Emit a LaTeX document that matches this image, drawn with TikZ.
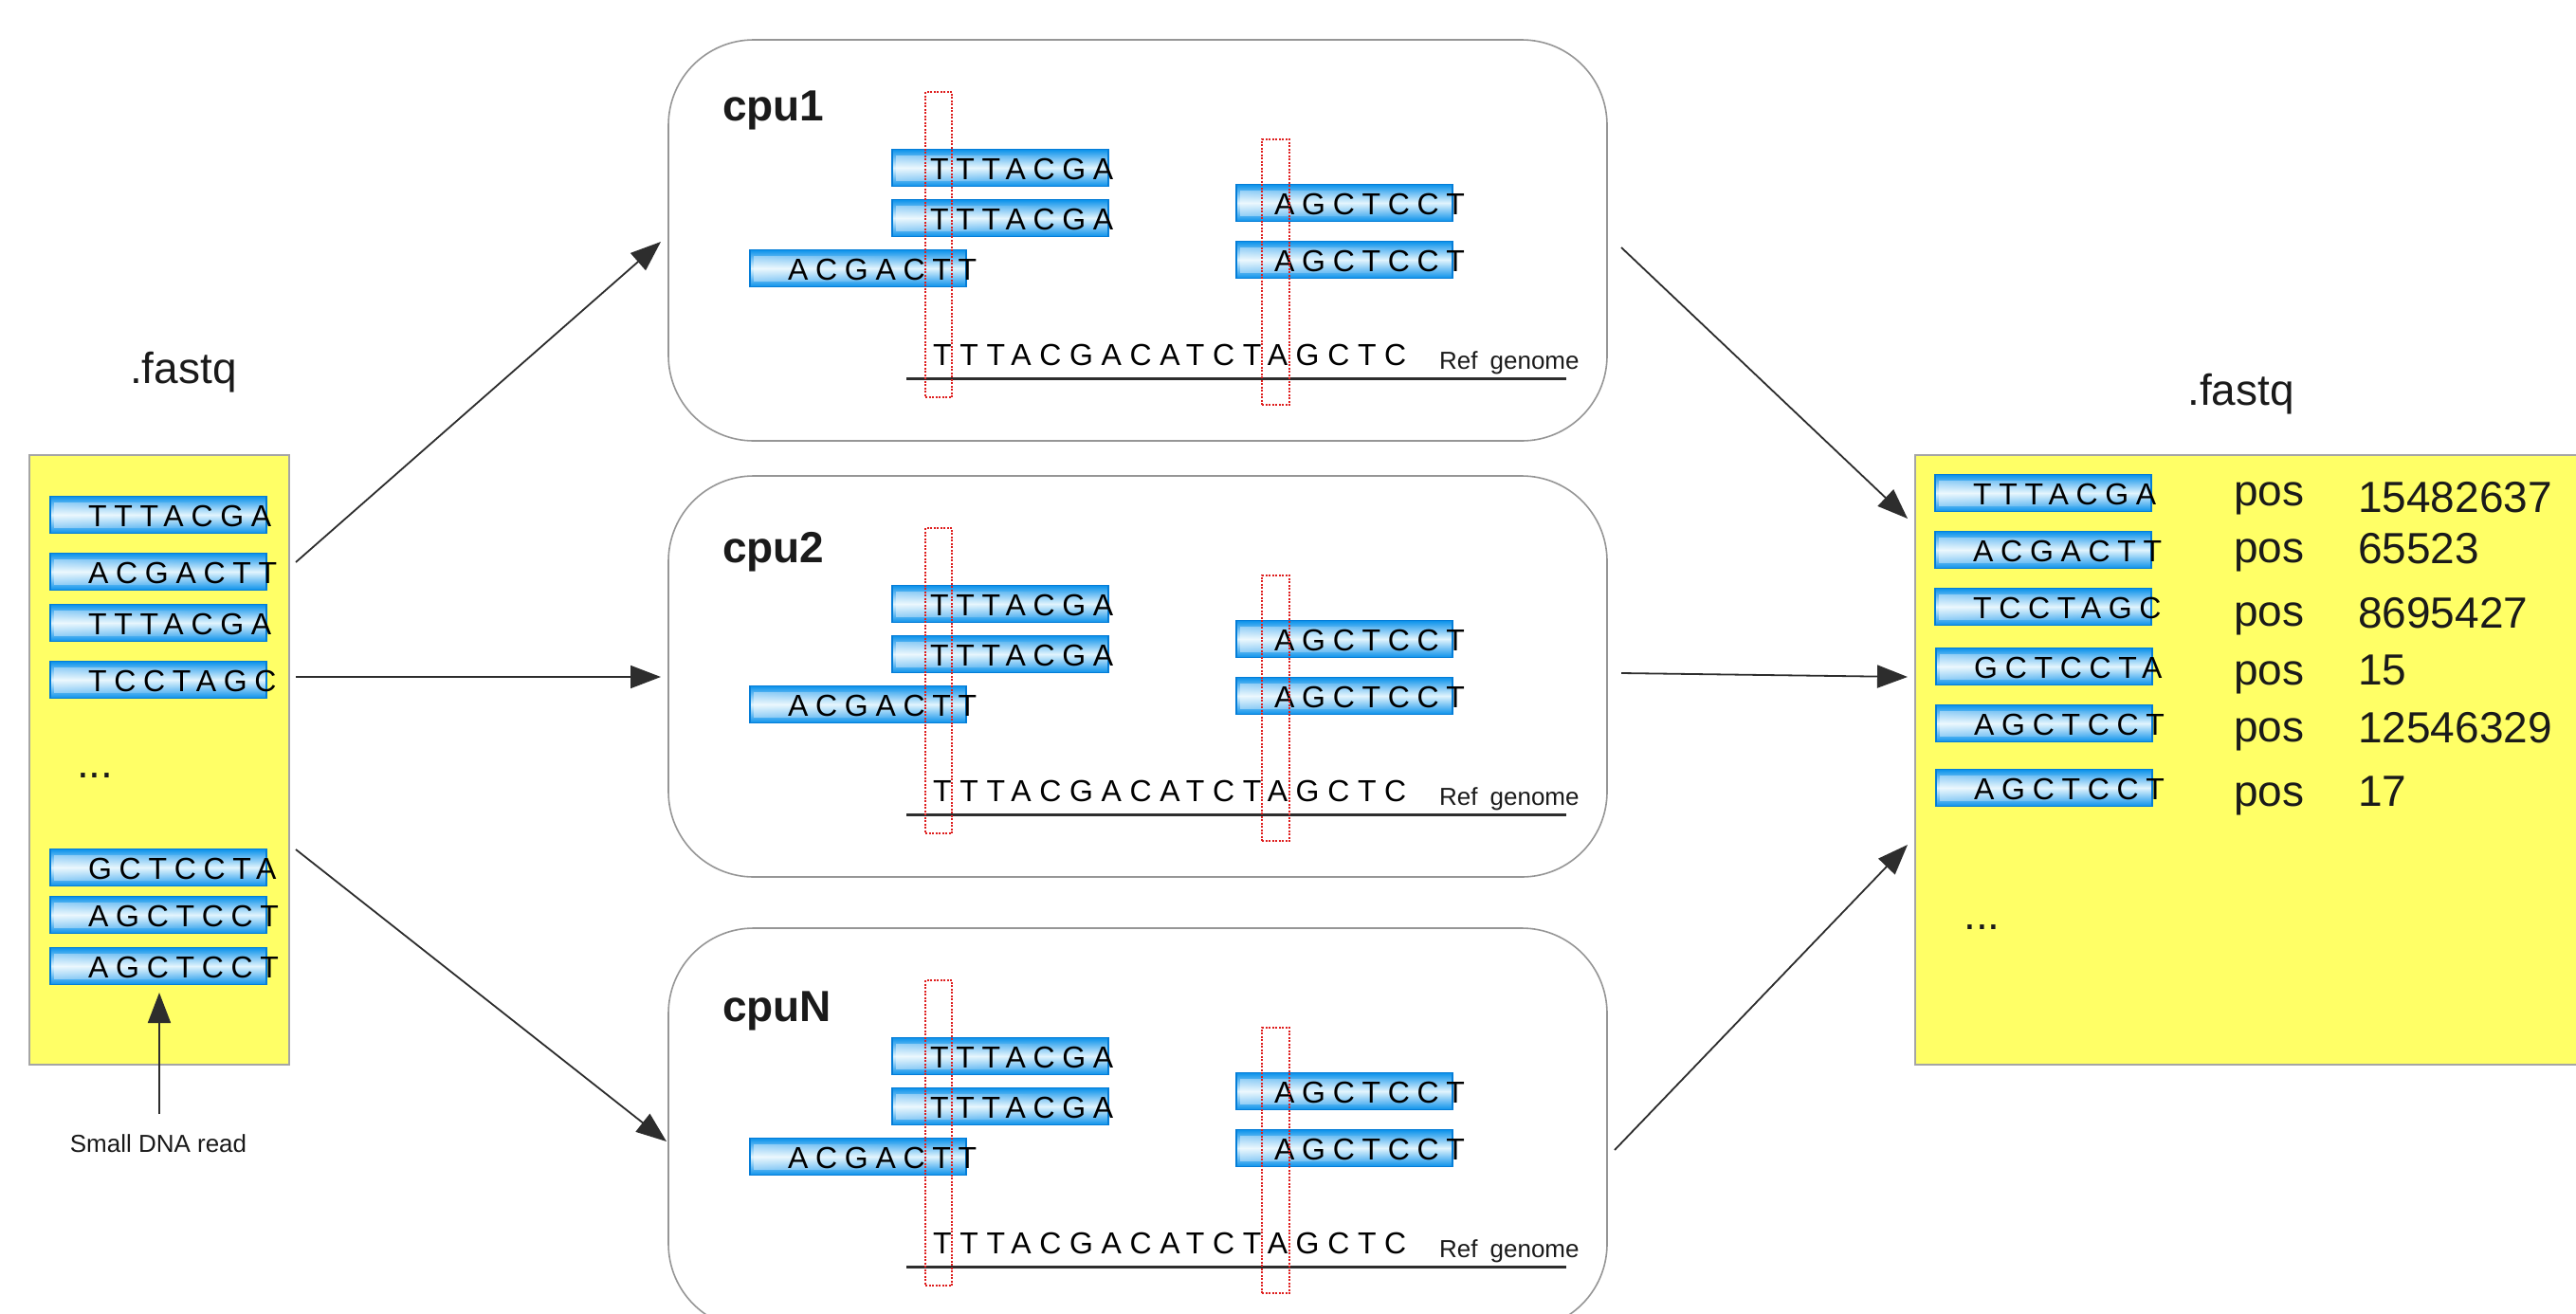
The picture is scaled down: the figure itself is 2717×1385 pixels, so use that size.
\documentclass[tikz,border=0pt]{standalone}
\usepackage{fontspec}
\setmainfont{Liberation Sans}
\newfontfamily\seqfont[LetterSpace=24]{Liberation Sans}
\newfontfamily\reffont[LetterSpace=27]{Liberation Sans}
\usetikzlibrary{arrows.meta,fadings}
\definecolor{rblue}{RGB}{10,145,235}
\definecolor{rblued}{RGB}{5,125,215}
\definecolor{rlight}{RGB}{225,244,253}
\definecolor{yel}{RGB}{255,255,102}
\definecolor{boxgray}{RGB}{165,165,165}
\definecolor{panelgray}{RGB}{150,150,150}
\definecolor{txt}{RGB}{26,26,26}
\definecolor{dotred}{RGB}{222,30,30}
\definecolor{arrowc}{RGB}{45,45,45}
\tikzset{
  readbox/.style={draw=rblued, line width=1.5pt, minimum width=228pt, minimum height=39pt,
    inner sep=0pt, outer sep=0pt, top color=rblue, bottom color=rblue, middle color=rlight},
  seq/.style={font=\seqfont\fontsize{32}{38}\selectfont, inner sep=0pt, anchor=base west, text=black},
  refseq/.style={font=\reffont\fontsize{32}{38}\selectfont, inner sep=0pt, anchor=base west, text=black},
  panel/.style={draw=panelgray, line width=1.6pt, fill=white, rounded corners=90pt,
    minimum width=990pt, minimum height=423pt, inner sep=0pt, outer sep=0pt},
  cpulabel/.style={font=\bfseries\fontsize{46}{54}\selectfont, text=txt, inner sep=0pt, anchor=base west},
  bigtext/.style={font=\fontsize{46}{54}\selectfont, text=txt, inner sep=0pt, anchor=base west},
  smalltext/.style={font=\fontsize{26}{30}\selectfont, text=txt, inner sep=0pt, anchor=base west},
  redbox/.style={draw=dotred, line width=1.6pt, dash pattern=on 2pt off 1.5pt, inner sep=0pt, outer sep=0pt},
  refline/.style={draw=arrowc, line width=3pt},
  flow/.style={draw=arrowc, line width=1.8pt, -{Triangle[length=32pt,width=24pt]}},
  yellowbox/.style={draw=boxgray, line width=1.6pt, fill=yel, inner sep=0pt, outer sep=0pt}
}
\newcommand\dnaread[4]{%
  \node[readbox, anchor=west] (#1) at (#2,#3) {};
  \fill[white, path fading=east, fill opacity=0.4]
    ([xshift=4pt,yshift=6pt]#1.south west) rectangle ([xshift=-60pt,yshift=-6pt]#1.north east);
  \node[seq] (#1t) at ([xshift=40pt,yshift=-12pt]#1.west) {#4};
}
\newcommand\cpupanel[4]{%
  \begin{scope}[shift={(0,#2)}]
    \node[panel] (#1) at (1200,253.5) {};
    \node[cpulabel] (#1lab) at (762,#4) {#3};
    \dnaread{#1a}{941}{177}{TTTACGA}
    \dnaread{#1b}{941}{230}{TTTACGA}
    \dnaread{#1c}{791}{283}{ACGACTT}
    \dnaread{#1d}{1304}{214}{AGCTCCT}
    \dnaread{#1e}{1304}{274}{AGCTCCT}
    \draw[refline] (956,399) -- (1652,399);
    \node[refseq] (#1ref) at (984,385) {TTTACGACATCTAGCTC};
    \node[smalltext] (#1rg) at (1518,389) {Ref\hspace{0.5em}genome};
    \node[redbox, minimum width=28pt, minimum height=322pt] (#1r1) at (990,258) {};
    \node[redbox, minimum width=29pt, minimum height=280pt] (#1r2) at (1345.5,287) {};
  \end{scope}
}
\begin{document}
\begin{tikzpicture}[x=1pt,y=-1pt]
\clip (0,0) rectangle (2717,1385);
\fill[white] (0,0) rectangle (2717,1385);

% left input file
\node[bigtext] (fq1) at (137,404) {.fastq};
\node[yellowbox, minimum width=274pt, minimum height=643pt] (inbox) at (168,801.5) {};
\dnaread{l1}{53}{543}{TTTACGA}
\dnaread{l2}{53}{603}{ACGACTT}
\dnaread{l3}{53}{657}{TTTACGA}
\dnaread{l4}{53}{717}{TCCTAGC}
\node[bigtext] (ldots) at (81,820) {...};
\dnaread{l5}{53}{915}{GCTCCTA}
\dnaread{l6}{53}{965}{AGCTCCT}
\dnaread{l7}{53}{1019}{AGCTCCT}
\coordinate (sdnaTail) at (168,1175);
\coordinate (sdnaTip) at (168,1047);
\draw[flow] (sdnaTail) -- (sdnaTip);
\node[smalltext, anchor=base] (sdna) at (167,1215) {Small DNA read};

% cpu panels
\cpupanel{c1}{0}{cpu1}{127}
\cpupanel{c2}{460}{cpu2}{133}
\cpupanel{c3}{937}{cpuN}{140}

% output file
\node[bigtext] (fq2) at (2307,427) {.fastq};
\node[yellowbox, anchor=north west, minimum width=760pt, minimum height=643pt] (outbox) at (2020,480) {};
\dnaread{o1}{2041}{520}{TTTACGA}
\dnaread{o2}{2041}{580}{ACGACTT}
\dnaread{o3}{2041}{640}{TCCTAGC}
\dnaread{o4}{2042}{703}{GCTCCTA}
\dnaread{o5}{2042}{763}{AGCTCCT}
\dnaread{o6}{2042}{831}{AGCTCCT}
\node[bigtext] (p1) at (2356,533) {pos};
\node[bigtext] (p2) at (2356,593) {pos};
\node[bigtext] (p3) at (2356,660) {pos};
\node[bigtext] (p4) at (2356,722) {pos};
\node[bigtext] (p5) at (2356,782) {pos};
\node[bigtext] (p6) at (2356,850) {pos};
\node[bigtext] (n1) at (2487,540) {15482637};
\node[bigtext] (n2) at (2487,594) {65523};
\node[bigtext] (n3) at (2487,662) {8695427};
\node[bigtext] (n4) at (2487,722) {15};
\node[bigtext] (n5) at (2487,783) {12546329};
\node[bigtext] (n6) at (2487,850) {17};
\node[bigtext] (rdots) at (2071,980) {...};

% flow arrows
\coordinate (la1) at (312,593);  \coordinate (lb1) at (697,255);
\coordinate (la2) at (312,714);  \coordinate (lb2) at (697,714);
\coordinate (la3) at (312,896);  \coordinate (lb3) at (703,1204);
\coordinate (ra1) at (1710,261); \coordinate (rb1) at (2012,547);
\coordinate (ra2) at (1710,710); \coordinate (rb2) at (2012,714);
\coordinate (ra3) at (1703,1213);\coordinate (rb3) at (2012,891);
\draw[flow] (la1) -- (lb1);
\draw[flow] (la2) -- (lb2);
\draw[flow] (la3) -- (lb3);
\draw[flow] (ra1) -- (rb1);
\draw[flow] (ra2) -- (rb2);
\draw[flow] (ra3) -- (rb3);
\end{tikzpicture}
\end{document}
